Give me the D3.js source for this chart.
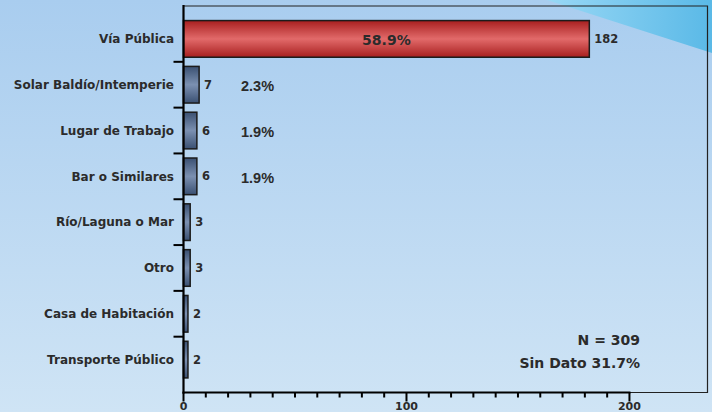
<!DOCTYPE html>
<html>
<head>
<meta charset="utf-8">
<script src="https://cdn.jsdelivr.net/npm/d3@7"></script>
<style>
  body { margin: 0; padding: 0; overflow: hidden; }
  svg { display: block; }
  text { font-family: "DejaVu Sans", Verdana, sans-serif; font-weight: bold; fill: #2b2b2b; }
</style>
</head>
<body>
<div id="chart"></div>
<script>
var categories = ["Vía Pública", "Solar Baldío/Intemperie", "Lugar de Trabajo", "Bar o Similares",
  "Río/Laguna o Mar", "Otro", "Casa de Habitación", "Transporte Público"];
var counts = [182, 7, 6, 6, 3, 3, 2, 2];
var percents = ["58.9%", "2.3%", "1.9%", "1.9%", null, null, null, null];
var majorTicks = [0, 100, 200];
var minorTicks = [10, 20, 30, 40, 50, 60, 70, 80, 90, 110, 120, 130, 140, 150, 160, 170, 180, 190];
var noteLines = ["N = 309", "Sin Dato 31.7%"];

var svgWidth = 712;
var svgHeight = 412;

var svg = d3.select("#chart")
  .append("svg")
  .attr("width", svgWidth)
  .attr("height", svgHeight);

var defs = svg.append("defs");

var bg = defs.append("linearGradient").attr("id", "bg")
  .attr("x1", 0).attr("y1", 0).attr("x2", 0).attr("y2", 1);
bg.append("stop").attr("offset", "0%").attr("stop-color", "#a9cdef");
bg.append("stop").attr("offset", "100%").attr("stop-color", "#cfe4f5");

var corner = defs.append("linearGradient").attr("id", "corner")
  .attr("x1", 0).attr("y1", 0).attr("x2", 1).attr("y2", 0);
corner.append("stop").attr("offset", "0%").attr("stop-color", "#99d8f5");
corner.append("stop").attr("offset", "100%").attr("stop-color", "#5ab9e7");

function barGradient(id, edge, mid) {
  var g = defs.append("linearGradient").attr("id", id)
    .attr("x1", 0).attr("y1", 0).attr("x2", 0).attr("y2", 1);
  g.append("stop").attr("offset", "0%").attr("stop-color", edge);
  g.append("stop").attr("offset", "50%").attr("stop-color", mid);
  g.append("stop").attr("offset", "100%").attr("stop-color", edge);
}
barGradient("redbar", "#a71f1f", "#e26a6a");
barGradient("bluebar", "#3a5072", "#7b90b1");

// background
svg.append("rect")
  .attr("width", svgWidth)
  .attr("height", svgHeight)
  .attr("fill", "url(#bg)");

svg.append("polygon")
  .attr("points", "547,0 712,0 712,53")
  .attr("fill", "url(#corner)");

// scales
var plotLeft = 183.5, plotRight = 707.5, plotTop = 6, plotBottom = 392.5;

var xScale = d3.scaleLinear()
  .domain([0, 235])
  .range([plotLeft, plotRight]);

var yScale = d3.scaleBand()
  .domain(categories)
  .range([16, 382.5])
  .paddingInner(0.2)
  .paddingOuter(0.1);

var step = yScale.step();

// frame
svg.append("path")
  .attr("d", `M${plotLeft},${plotTop}H${plotRight}V${plotBottom}H${xScale(200)}`)
  .attr("fill", "none")
  .attr("stroke", "#222")
  .attr("stroke-width", 1.2);

// bars
svg.selectAll(".bar")
  .data(categories)
  .enter()
  .append("rect")
  .attr("class", "bar")
  .attr("x", xScale(0))
  .attr("y", d => yScale(d))
  .attr("width", (d, i) => xScale(counts[i]) - xScale(0))
  .attr("height", yScale.bandwidth())
  .attr("fill", (d, i) => i === 0 ? "url(#redbar)" : "url(#bluebar)")
  .attr("stroke", "#1b1b1b")
  .attr("stroke-width", 1.5);

// count labels
svg.selectAll(".count")
  .data(categories)
  .enter()
  .append("text")
  .attr("class", "count")
  .attr("x", (d, i) => xScale(counts[i]) + 5)
  .attr("y", d => yScale(d) + yScale.bandwidth() / 2)
  .attr("dy", "0.36em")
  .style("font-size", "11.5px")
  .text((d, i) => counts[i]);

// percent labels
svg.selectAll(".pct")
  .data(categories.filter((d, i) => percents[i]))
  .enter()
  .append("text")
  .attr("class", "pct")
  .attr("x", (d, i) => i === 0 ? (xScale(0) + xScale(counts[0])) / 2 : xScale(25.8))
  .attr("y", d => yScale(d) + yScale.bandwidth() / 2 + 1)
  .attr("dy", "0.36em")
  .attr("text-anchor", (d, i) => i === 0 ? "middle" : "start")
  .style("font-size", (d, i) => i === 0 ? "14px" : "14.5px")
  .style("font-family", (d, i) => i === 0 ? null : "'Liberation Sans', Arial, sans-serif")
  .text((d, i) => percents[i]);

// y axis
svg.append("line")
  .attr("x1", plotLeft).attr("x2", plotLeft)
  .attr("y1", 5).attr("y2", plotBottom + 1)
  .attr("stroke", "#000")
  .attr("stroke-width", 2.2);

svg.selectAll(".ytick")
  .data(categories.slice(1))
  .enter()
  .append("line")
  .attr("class", "ytick")
  .attr("x1", plotLeft - 10).attr("x2", plotLeft)
  .attr("y1", d => yScale(d) - yScale.paddingInner() * step / 2)
  .attr("y2", d => yScale(d) - yScale.paddingInner() * step / 2)
  .attr("stroke", "#000")
  .attr("stroke-width", 2);

svg.selectAll(".ylabel")
  .data(categories)
  .enter()
  .append("text")
  .attr("class", "ylabel")
  .attr("x", 174)
  .attr("y", d => yScale(d) + yScale.bandwidth() / 2)
  .attr("dy", "0.36em")
  .attr("text-anchor", "end")
  .style("font-size", "12px")
  .text(d => d);

// x axis
svg.append("line")
  .attr("x1", plotLeft - 1).attr("x2", xScale(200) + 1)
  .attr("y1", plotBottom).attr("y2", plotBottom)
  .attr("stroke", "#000")
  .attr("stroke-width", 2.2);

svg.selectAll(".xminor")
  .data(minorTicks)
  .enter()
  .append("line")
  .attr("class", "xminor")
  .attr("x1", d => xScale(d)).attr("x2", d => xScale(d))
  .attr("y1", plotBottom).attr("y2", plotBottom + 5)
  .attr("stroke", "#000")
  .attr("stroke-width", 2);

svg.selectAll(".xmajor")
  .data(majorTicks)
  .enter()
  .append("line")
  .attr("class", "xmajor")
  .attr("x1", d => xScale(d)).attr("x2", d => xScale(d))
  .attr("y1", plotBottom).attr("y2", plotBottom + 9)
  .attr("stroke", "#000")
  .attr("stroke-width", 2);

svg.selectAll(".xlabel")
  .data(majorTicks)
  .enter()
  .append("text")
  .attr("class", "xlabel")
  .attr("x", d => xScale(d))
  .attr("y", 410)
  .attr("text-anchor", "middle")
  .style("font-size", "11px")
  .text(d => d);

// note
svg.selectAll(".note")
  .data(noteLines)
  .enter()
  .append("text")
  .attr("class", "note")
  .attr("x", 640)
  .attr("y", (d, i) => 345 + i * 23)
  .attr("text-anchor", "end")
  .style("font-size", "14px")
  .text(d => d);
</script>
</body>
</html>
